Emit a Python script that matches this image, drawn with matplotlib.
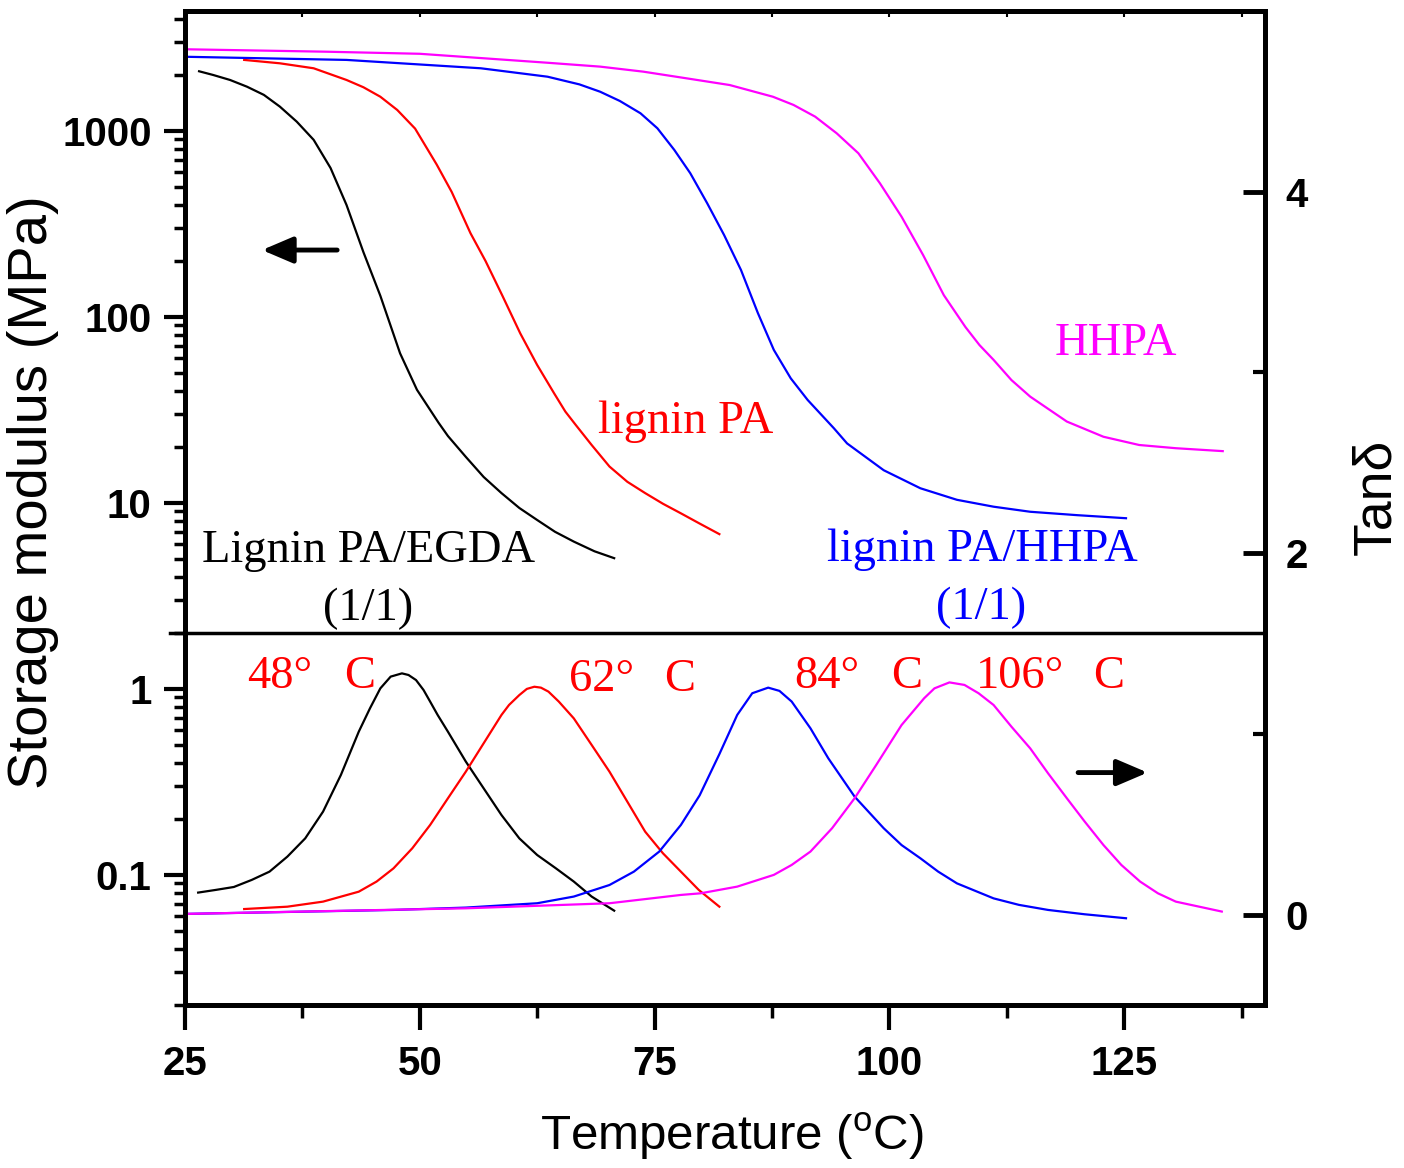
import matplotlib
matplotlib.use("Agg")
import matplotlib.pyplot as plt
from matplotlib import font_manager as fm
from matplotlib.ticker import FixedLocator, LogLocator, NullFormatter, FixedFormatter

# ---------------- data ----------------
# Storage modulus E' (MPa) vs temperature (deg C)
T_E_egda = [26.5, 28.0, 29.8, 31.6, 33.4, 35.1, 36.9, 38.7, 40.5, 42.2, 44.0, 45.8, 47.9, 49.7,
            52.0, 53.0, 54.9, 56.8, 58.7, 60.6, 62.5, 64.4, 66.4, 68.6, 70.7]
E_egda = [2094, 2000, 1880, 1730, 1563, 1352, 1122, 896, 632, 400, 223, 130, 63.8, 40.6,
          27.0, 22.9, 17.7, 13.8, 11.3, 9.4, 8.1, 7.0, 6.2, 5.5, 5.05]

T_E_pa = [31.3, 35.1, 38.7, 42.2, 44.0, 45.8, 47.6, 49.5, 51.8, 53.4, 55.4, 57.0, 58.8, 60.7,
          62.5, 64.3, 65.5, 66.6, 68.3, 70.2, 72.1, 74.0, 75.9, 77.8, 79.7, 81.9]
E_pa = [2410, 2311, 2173, 1880, 1718, 1528, 1297, 1030, 660, 470, 282, 200, 130, 81.6,
        55.2, 38.9, 31.0, 26.3, 20.5, 15.7, 13.0, 11.3, 9.9, 8.8, 7.8, 6.8]

T_E_pahh = [25.0, 42.2, 56.5, 63.6, 67.0, 69.2, 71.3, 73.5, 75.3, 77.1, 78.8, 80.6, 82.4, 84.2,
            86.0, 87.7, 89.5, 91.3, 94.1, 95.5, 99.4, 103.3, 107.2, 111.1, 115.0, 120.0, 125.2]
E_pahh = [2506, 2410, 2173, 1958, 1780, 1626, 1450, 1245, 1034, 791, 593, 409, 276, 179,
          105, 66.5, 46.8, 35.8, 25.2, 20.9, 15.0, 12.0, 10.4, 9.55, 8.97, 8.6, 8.28]

T_E_hhpa = [25.0, 40.0, 50.0, 63.6, 69.2, 73.8, 78.4, 83.0, 87.6, 89.8, 92.1, 94.4, 96.7,
            99.0, 101.3, 103.6, 105.8, 108.1, 109.6, 111.1, 113.0, 115.0, 118.9, 122.8,
            126.6, 130.5, 135.5]
E_hhpa = [2750, 2668, 2600, 2327, 2218, 2084, 1919, 1766, 1528, 1380, 1194, 971, 759,
          523, 346, 215, 131, 88.3, 70.6, 58.8, 45.8, 37.3, 27.4, 22.7, 20.5, 19.7, 19.0]

# Tan delta vs temperature
T_t_egda = [26.4, 28.3, 30.2, 32.1, 34.0, 35.9, 37.8, 39.7, 41.6, 43.5, 44.7, 45.8, 46.9,
            48.1, 48.8, 49.6, 50.4, 51.1, 51.9, 53.0, 54.9, 56.8, 58.7, 60.6, 62.5, 64.5,
            66.4, 68.3, 70.7]
tan_egda = [0.122, 0.137, 0.153, 0.192, 0.238, 0.321, 0.422, 0.570, 0.773, 1.012, 1.142,
            1.252, 1.317, 1.335, 1.326, 1.298, 1.243, 1.179, 1.105, 1.012, 0.847, 0.699,
            0.551, 0.422, 0.330, 0.256, 0.183, 0.100, 0.022]

T_t_pa = [31.3, 35.9, 39.7, 43.5, 45.4, 47.2, 49.2, 51.1, 53.0, 54.9, 56.8, 58.7, 59.5,
          60.6, 61.4, 62.2, 62.9, 63.7, 64.8, 66.4, 68.3, 70.2, 72.1, 74.0, 75.9, 77.8,
          79.7, 81.9]
tan_pa = [0.031, 0.044, 0.072, 0.127, 0.183, 0.256, 0.367, 0.496, 0.644, 0.791, 0.948,
          1.105, 1.160, 1.215, 1.249, 1.261, 1.256, 1.234, 1.179, 1.086, 0.939, 0.791,
          0.625, 0.459, 0.339, 0.238, 0.137, 0.044]

T_t_pahh = [25.0, 47.2, 54.9, 62.5, 66.4, 70.2, 72.8, 75.5, 77.8, 79.8, 81.9, 83.8, 85.4,
            87.1, 88.3, 89.6, 91.6, 93.5, 96.3, 99.4, 101.3, 103.3, 105.2, 107.2, 111.1,
            113.8, 116.9, 120.8, 125.2]
tan_pahh = [0.004, 0.026, 0.039, 0.063, 0.100, 0.164, 0.238, 0.349, 0.496, 0.660, 0.888,
            1.105, 1.225, 1.256, 1.238, 1.179, 1.031, 0.865, 0.653, 0.478, 0.385, 0.312,
            0.238, 0.173, 0.090, 0.054, 0.026, 0.002, -0.020]

T_t_hhpa = [25.0, 54.9, 70.2, 77.8, 79.9, 83.8, 87.7, 89.6, 91.6, 93.9, 96.3, 98.6, 101.3,
            103.7, 104.8, 106.4, 108.0, 109.5, 111.1, 113.0, 115.0, 116.9, 118.9, 120.8,
            122.8, 124.7, 126.7, 128.6, 130.5, 135.4]
tan_hhpa = [0.004, 0.035, 0.063, 0.109, 0.118, 0.155, 0.220, 0.275, 0.349, 0.478, 0.644,
            0.828, 1.049, 1.197, 1.252, 1.285, 1.271, 1.225, 1.160, 1.040, 0.920, 0.782,
            0.644, 0.515, 0.385, 0.275, 0.183, 0.118, 0.072, 0.017]

x_ticks = [25, 50, 75, 100, 125]
x_minor = [37.5, 62.5, 87.5, 112.5, 137.5]
E_ticks = [0.1, 1, 10, 100, 1000]
E_ticklabels = ["0.1", "1", "10", "100", "1000"]
tan_ticks = [0, 2, 4]
tan_minor = [1, 3]

# peak temperature labels: number part, "C" part
peak_nums = ["48°", "62°", "84°", "106°"]
peak_num_x = [31.6, 65.9, 89.9, 109.2]
peak_c_x = [41.95, 76.07, 100.17, 121.71]
peak_y = [1.01, 0.975, 1.01, 1.01]

colors = {"egda": "#000000", "pa": "#FF0000", "pahh": "#0000FF", "hhpa": "#FF00FF"}

# ---------------- fonts ----------------
names = {f.name for f in fm.fontManager.ttflist}
if "Liberation Sans Narrow" in names:
    sans = "Liberation Sans Narrow"
    tick_fs, ylab_fs, xlab_fs = 33, 44, 40
else:
    sans = "Liberation Sans"
    tick_fs, ylab_fs, xlab_fs = 29, 40.5, 35.5
serif = "Liberation Serif"

plt.rcParams["font.family"] = [sans, "DejaVu Sans"]
plt.rcParams["mathtext.fontset"] = "custom"
plt.rcParams["mathtext.rm"] = sans
plt.rcParams["mathtext.it"] = sans

W, H = 1404, 1168
fig = plt.figure(figsize=(W / 100, H / 100), dpi=100)
L, R, T, B = 185, 1265, 11, 1005
ax = fig.add_axes([L / W, 1 - B / H, (R - L) / W, (B - T) / H])
ax2 = ax.twinx()

ax.set_xlim(25, 140)
ax.set_yscale("log")
ax.set_ylim(0.02, 10 ** 3.645)
ax2.set_ylim(-0.5, 5)

lw = 1.6
ax.plot(T_E_egda, E_egda, color=colors["egda"], lw=lw)
ax.plot(T_E_pa, E_pa, color=colors["pa"], lw=lw)
ax.plot(T_E_pahh, E_pahh, color=colors["pahh"], lw=lw)
ax.plot(T_E_hhpa, E_hhpa, color=colors["hhpa"], lw=lw)

ax2.plot(T_t_egda, tan_egda, color=colors["egda"], lw=lw)
ax2.plot(T_t_pa, tan_pa, color=colors["pa"], lw=lw)
ax2.plot(T_t_pahh, tan_pahh, color=colors["pahh"], lw=lw)
ax2.plot(T_t_hhpa, tan_hhpa, color=colors["hhpa"], lw=lw)

# divider line
ax.axhline(2.0, xmin=-0.014, xmax=1.0, color="k", lw=2.5, clip_on=False, zorder=5)

# spines
for a in (ax, ax2):
    for s in a.spines.values():
        s.set_linewidth(3.5)

# x axis ticks
ax.xaxis.set_major_locator(FixedLocator(x_ticks))
ax.xaxis.set_minor_locator(FixedLocator(x_minor))
ax.tick_params(axis="x", which="major", direction="out", length=18, width=3,
               pad=11, labelsize=tick_fs)
ax.tick_params(axis="x", which="minor", direction="out", length=9, width=2.5)
for lab in ax.get_xticklabels():
    lab.set_fontweight("bold")

# top small ticks
sec = ax.secondary_xaxis("top")
sec.xaxis.set_major_locator(FixedLocator(x_ticks + x_minor))
sec.tick_params(axis="x", direction="in", length=4, width=1.5, labeltop=False)
sec.spines["top"].set_linewidth(3.5)

# left (log) axis
ax.yaxis.set_major_locator(FixedLocator(E_ticks))
ax.yaxis.set_major_formatter(FixedFormatter(E_ticklabels))
ax.yaxis.set_minor_locator(LogLocator(base=10, subs=range(2, 10), numticks=20))
ax.yaxis.set_minor_formatter(NullFormatter())
ax.tick_params(axis="y", which="major", direction="out", length=15, width=3,
               pad=9, labelsize=tick_fs, right=False)
ax.tick_params(axis="y", which="minor", direction="out", length=8, width=2.5, right=False)
for lab in ax.get_yticklabels():
    lab.set_fontweight("bold")

# right (tan delta) axis
ax2.yaxis.set_major_locator(FixedLocator(tan_ticks))
ax2.yaxis.set_minor_locator(FixedLocator(tan_minor))
ax2.tick_params(axis="y", which="major", direction="in", length=16, width=3.5,
                pad=15, labelsize=tick_fs, left=False)
ax2.tick_params(axis="y", which="minor", direction="in", length=9, width=3, left=False)
for lab in ax2.get_yticklabels():
    lab.set_fontweight("bold")

# axis labels
fig.text(33 / W, 1 - 492 / H, "Storage modulus (MPa)", rotation=90, ha="center",
         va="center", fontsize=ylab_fs)
fig.text(732 / W, 1 - 1137 / H, r"Temperature ($^{\mathrm{o}}$C)", ha="center",
         va="center", fontsize=xlab_fs)
fig.text(1376 / W, 1 - 497 / H, "Tanδ", rotation=90, ha="center", va="center",
         fontsize=ylab_fs - 2)

# annotations (serif)
tfs = 33.5
ax.text(26.8, 4.82, "Lignin PA/EGDA", color=colors["egda"], fontsize=tfs,
        family=serif, ha="left", va="baseline")
ax.text(44.5, 2.35, "(1/1)", color=colors["egda"], fontsize=tfs,
        family=serif, ha="center", va="baseline")
ax.text(69.0, 23.8, "lignin PA", color=colors["pa"], fontsize=tfs,
        family=serif, ha="left", va="baseline")
ax.text(117.6, 62.5, "HHPA", color=colors["hhpa"], fontsize=tfs,
        family=serif, ha="left", va="baseline")
ax.text(93.4, 4.88, "lignin PA/HHPA", color=colors["pahh"], fontsize=tfs,
        family=serif, ha="left", va="baseline")
ax.text(109.75, 2.37, "(1/1)", color=colors["pahh"], fontsize=tfs,
        family=serif, ha="center", va="baseline")

for s, xn, xc, yy in zip(peak_nums, peak_num_x, peak_c_x, peak_y):
    ax.text(xn, yy, s, color="#FF0000", fontsize=tfs, family=serif,
            ha="left", va="baseline")
    ax.text(xc, yy, "C", color="#FF0000", fontsize=tfs, family=serif,
            ha="left", va="baseline")

# arrows
arrow_kw = dict(arrowstyle="-|>,head_length=0.75,head_width=0.32", color="k",
                lw=3.5, mutation_scale=25, shrinkA=0, shrinkB=0)
ax.annotate("", xy=(33.2, 229), xytext=(41.2, 229), arrowprops=arrow_kw)
ax2.annotate("", xy=(127.5, 0.786), xytext=(120.1, 0.786), arrowprops=arrow_kw)

fig.savefig("out.png", dpi=100)
